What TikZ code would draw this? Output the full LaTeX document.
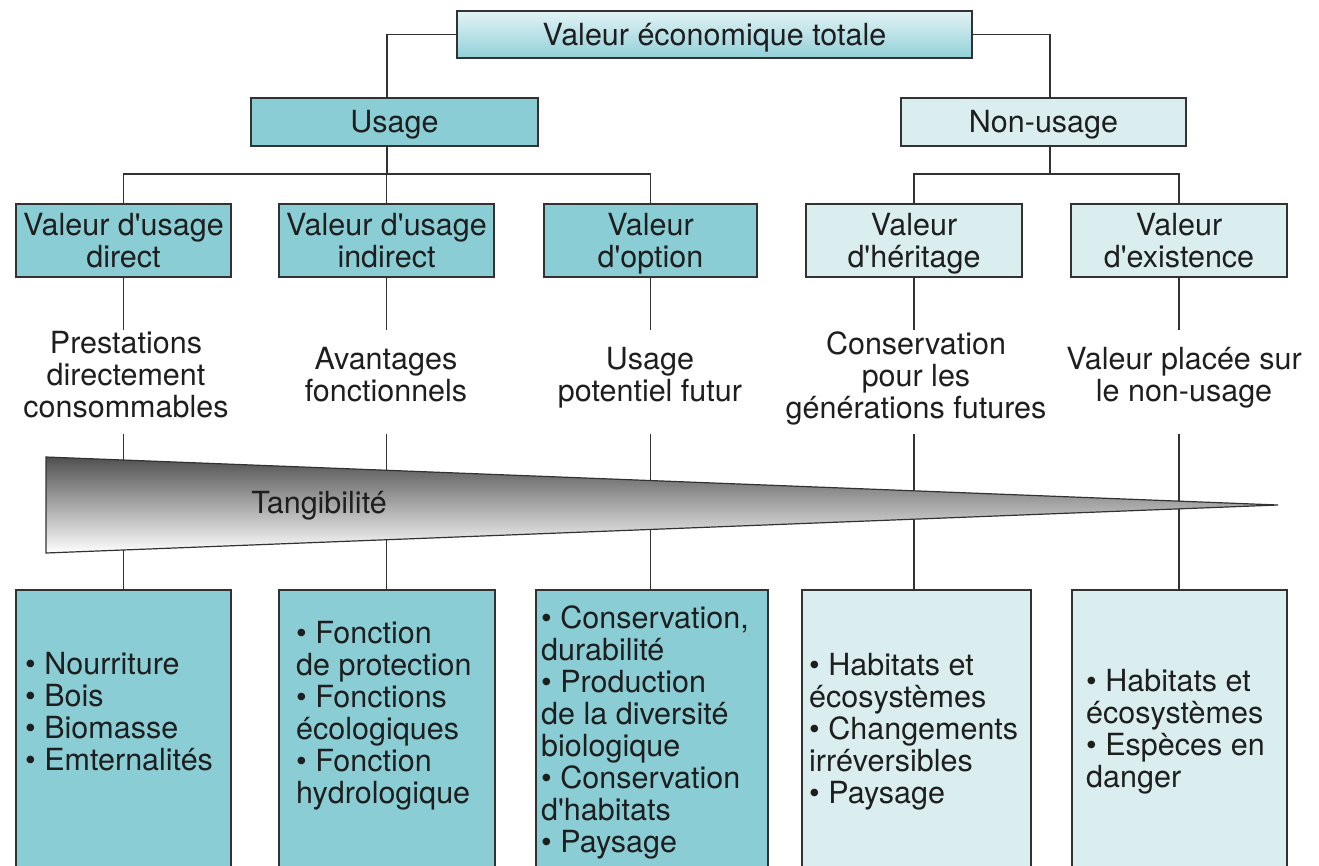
\documentclass[tikz,border=0pt]{standalone}
\usepackage{fontspec}
\setmainfont{TeX Gyre Heros}
\definecolor{teal1}{RGB}{138,205,213}
\definecolor{light1}{RGB}{218,238,240}
\definecolor{edge1}{RGB}{50,50,50}
\definecolor{ink}{RGB}{30,30,30}
\newcommand\hst{\rule{0pt}{28pt}}
\newcommand\dst{\rule[-7pt]{0pt}{7pt}}
\begin{document}
\begin{tikzpicture}[x=1pt,y=-1pt,
  every node/.style={font=\fontsize{30.5}{32}\selectfont, text=ink},
  box/.style={draw=edge1, line width=1.4pt, inner sep=0pt, align=center},
  dk/.style={box, fill=teal1},
  lt/.style={box, fill=light1},
  conn/.style={draw=edge1, line width=1.2pt},
  lst/.style={inner sep=0pt, align=left, anchor=west},
  mid/.style={inner sep=0pt, align=center}]
\useasboundingbox (0,0) rectangle (1319,865);

% top level
\node[box, top color={rgb,255:red,226;green,243;blue,245}, bottom color={rgb,255:red,146;green,208;blue,216},
      minimum width=515pt, minimum height=47pt] (top) at (714.5,34.5) {\hst Valeur économique totale\dst};
\node[dk, minimum width=287pt, minimum height=48pt] (usage) at (394.5,122) {\hst Usage\dst};
\node[lt, minimum width=285pt, minimum height=48pt] (nonusage) at (1043.5,122) {\hst Non-usage\dst};

% third level
\node[dk, minimum width=215pt, minimum height=73pt] (vud) at (123.5,240.5) {\hst Valeur d\textquotesingle usage\\direct\dst};
\node[dk, minimum width=215pt, minimum height=73pt] (vui) at (386.5,240.5) {\hst Valeur d\textquotesingle usage\\indirect\dst};
\node[dk, minimum width=213pt, minimum height=73pt] (opt) at (650.5,240.5) {\hst Valeur\\d\textquotesingle option\dst};
\node[lt, minimum width=216pt, minimum height=73pt] (her) at (914,240.5) {\hst Valeur\\d\textquotesingle héritage\dst};
\node[lt, minimum width=216pt, minimum height=73pt] (exi) at (1179,240.5) {\hst Valeur\\d\textquotesingle existence\dst};

\coordinate (jl) at (387,174);
\coordinate (jr) at (1050,174);
\coordinate (ya) at (0,330);
\coordinate (yb) at (0,434);

% bottom boxes
\node[dk, minimum width=215pt, minimum height=290pt] (b1) at (123.5,735) {};
\node[dk, minimum width=216pt, minimum height=290pt] (b2) at (387,735) {};
\node[dk, minimum width=232pt, minimum height=290pt] (b3) at (652,735) {};
\node[lt, minimum width=229pt, minimum height=290pt] (b4) at (916.5,735) {};
\node[lt, minimum width=215pt, minimum height=290pt] (b5) at (1179.5,735) {};

% connectors
\draw[conn] (top.west) -| (usage.north -| jl);
\draw[conn] (top.east) -| (nonusage.north -| jr);
\draw[conn] (usage.south -| jl) -- (jl);
\draw[conn] (nonusage.south -| jr) -- (jr);
\draw[conn] (vud.north) |- (jl) -| (opt.north);
\draw[conn] (vui.north) -- (vui.north |- jl);
\draw[conn] (her.north) |- (jr) -| (exi.north);
\foreach \n/\b in {vud/b1, vui/b2, opt/b3, her/b4, exi/b5}{
  \draw[conn] (\n.south) -- (\n.south |- ya);
  \draw[conn] (\n.south |- yb) -- (\n.south |- \b.north);
}

% middle texts
\node[mid] (t1) at (126,375) {Prestations\\directement\\consommables};
\node[mid] (t2) at (386,375) {Avantages\\fonctionnels};
\node[mid] (t3) at (650,378) {Usage\\potentiel futur};
\node[mid] (t4) at (916,378) {Conservation\\pour les\\générations futures};
\node[mid] (t5) at (1184,378) {Valeur placée sur\\le non-usage};

% tangibility wedge
\draw[edge1, line width=1.2pt, top color={rgb,255:red,80;green,80;blue,80}, bottom color=white]
  (46,457) -- (1278,505) -- (46,553) -- cycle;
\node[inner sep=0pt] (tang) at (319,506) {Tangibilité};

% lists
\node[lst] (l1) at (25,712) {\textbullet\ Nourriture\\\textbullet\ Bois\\\textbullet\ Biomasse\\\textbullet\ Emternalités};
\node[lst] (l2) at (296,716) {\textbullet\ Fonction\\de protection\\\textbullet\ Fonctions\\écologiques\\\textbullet\ Fonction\\hydrologique};
\node[lst] (l3) at (541,732) {\textbullet\ Conservation,\\durabilité\\\textbullet\ Production\\de la diversité\\biologique\\\textbullet\ Conservation\\d\textquotesingle habitats\\\textbullet\ Paysage};
\node[lst] (l4) at (809,732) {\textbullet\ Habitats et\\écosystèmes\\\textbullet\ Changements\\irréversibles\\\textbullet\ Paysage};
\node[lst] (l5) at (1086,732) {\textbullet\ Habitats et\\écosystèmes\\\textbullet\ Espèces en\\danger};
\end{tikzpicture}
\end{document}
